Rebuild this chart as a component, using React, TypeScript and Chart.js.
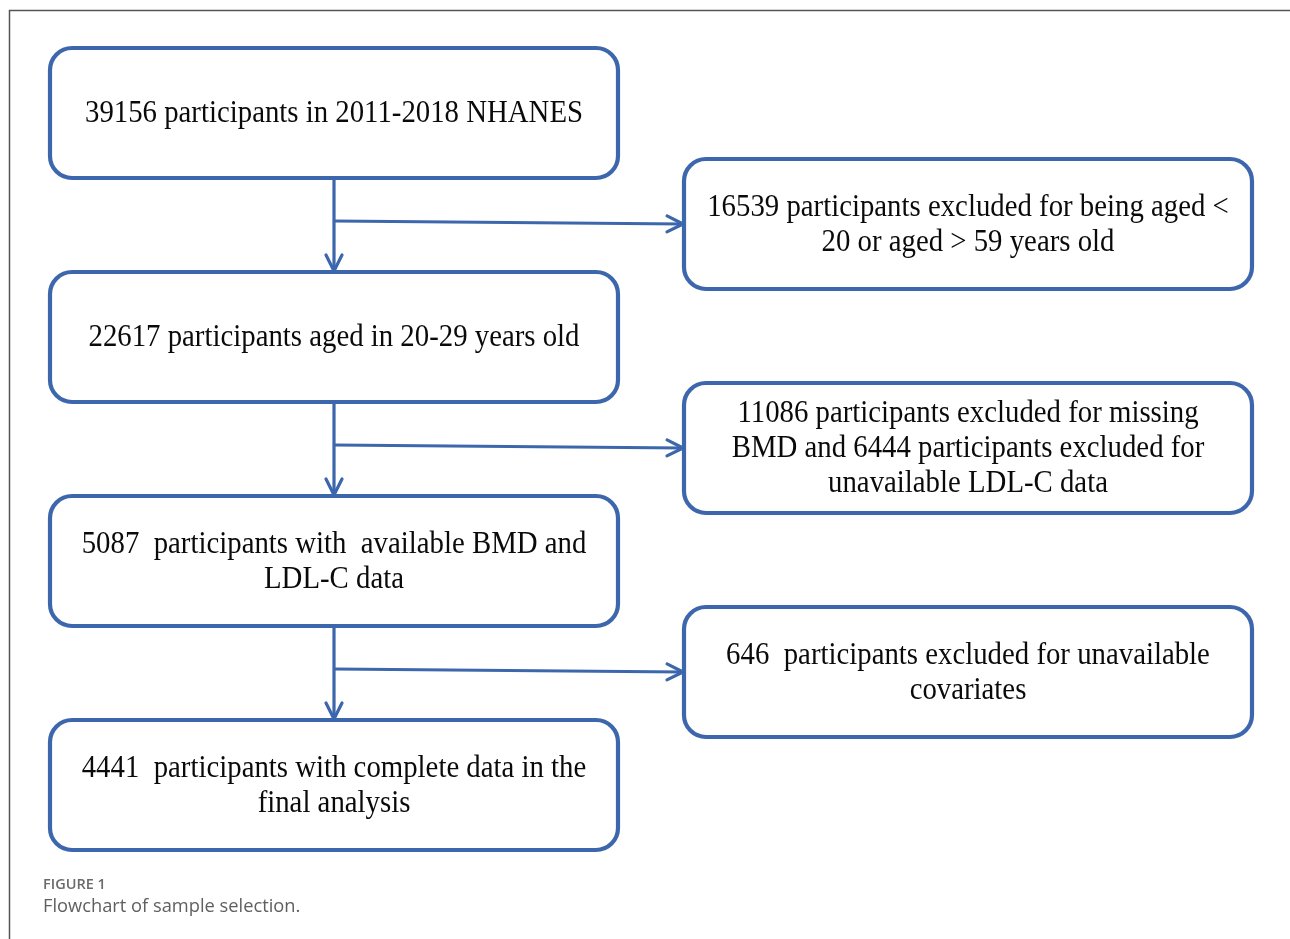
import React, { useEffect, useRef } from "react";
import { Chart, registerables } from "chart.js";

Chart.register(...registerables);

// ---- data ----
const stageLabels: string[][] = [
  ["39156 participants in 2011-2018 NHANES"],
  ["22617 participants aged in 20-29 years old"],
  ["5087  participants with  available BMD and", "LDL-C data"],
  ["4441  participants with complete data in the", "final analysis"],
];
const exclusionLabels: string[][] = [
  ["16539 participants excluded for being aged <", "20 or aged > 59 years old"],
  ["11086 participants excluded for missing", "BMD and 6444 participants excluded for", "unavailable LDL-C data"],
  ["646  participants excluded for unavailable", "covariates"],
];
const figureLabel = "FIGURE 1";
const figureCaption = "Flowchart of sample selection.";

// ---- layout (data units of the hidden scales) ----
const W = 1290;
const H = 939;
const leftCol = { x0: 50, x1: 618 };
const rightCol = { x0: 684, x1: 1252 };
const stageTop0 = 48;
const rowPitch = 224;
const boxH = 130;
const exclTopOffset = 111;
const trunkX = 334;
const BLUE = "#3d67ad";

function stageBox(i: number) {
  const y0 = stageTop0 + i * rowPitch;
  return { x0: leftCol.x0, x1: leftCol.x1, y0, y1: y0 + boxH };
}
function exclBox(i: number) {
  const y0 = stageTop0 + exclTopOffset + i * rowPitch;
  return { x0: rightCol.x0, x1: rightCol.x1, y0, y1: y0 + boxH };
}

// connectors built from the boxes
const connectors: { pts: { x: number; y: number }[] }[] = [];
for (let i = 0; i < stageLabels.length - 1; i++) {
  const a = stageBox(i);
  const b = stageBox(i + 1);
  const e = exclBox(i);
  const branchY = (a.y1 + b.y0) / 2 - 4;
  connectors.push({ pts: [{ x: trunkX, y: a.y1 }, { x: trunkX, y: b.y0 - 1 }] });
  connectors.push({ pts: [{ x: trunkX, y: branchY }, { x: e.x0 - 1, y: branchY + 3 }] });
}

const flowPlugin = {
  id: "flow",
  beforeDatasetsDraw(chart: any) {
    const { ctx, scales } = chart;
    const sx = (v: number) => scales.x.getPixelForValue(v);
    const sy = (v: number) => scales.y.getPixelForValue(v);
    ctx.save();
    // frame
    ctx.strokeStyle = "#555555";
    ctx.lineWidth = 1.5;
    ctx.beginPath();
    ctx.moveTo(sx(W), sy(10.5));
    ctx.lineTo(sx(9.5), sy(10.5));
    ctx.lineTo(sx(9.5), sy(H));
    ctx.stroke();
    ctx.restore();
  },
  afterDatasetsDraw(chart: any) {
    const { ctx, scales } = chart;
    const sx = (v: number) => scales.x.getPixelForValue(v);
    const sy = (v: number) => scales.y.getPixelForValue(v);
    ctx.save();
    // arrowheads
    ctx.strokeStyle = BLUE;
    ctx.lineWidth = 3.2;
    ctx.lineCap = "round";
    ctx.lineJoin = "round";
    connectors.forEach((c) => {
      const p0 = c.pts[0];
      const p1 = c.pts[c.pts.length - 1];
      const x1 = sx(p1.x), y1 = sy(p1.y);
      const ang = Math.atan2(y1 - sy(p0.y), x1 - sx(p0.x));
      const len = 16, half = 8;
      const bx = x1 - Math.cos(ang) * len;
      const by = y1 - Math.sin(ang) * len;
      const nx = -Math.sin(ang), ny = Math.cos(ang);
      ctx.beginPath();
      ctx.moveTo(bx + nx * half, by + ny * half);
      ctx.lineTo(x1, y1);
      ctx.lineTo(bx - nx * half, by - ny * half);
      ctx.stroke();
    });
    // boxes
    const drawBox = (b: any, lines: string[]) => {
      const x = sx(b.x0), y = sy(b.y0);
      const w = sx(b.x1) - x, h = sy(b.y1) - y;
      ctx.beginPath();
      ctx.roundRect(x, y, w, h, 22);
      ctx.fillStyle = "#ffffff";
      ctx.fill();
      ctx.lineWidth = 4.2;
      ctx.strokeStyle = BLUE;
      ctx.stroke();
      ctx.fillStyle = "#0a0a0a";
      ctx.font = '28.8px "Liberation Serif", "Times New Roman", serif';
      ctx.textAlign = "center";
      ctx.textBaseline = "alphabetic";
      const lh = 35;
      const cy = y + h / 2 + 9;
      const start = cy - ((lines.length - 1) * lh) / 2;
      lines.forEach((t, k) => {
        ctx.save();
        ctx.translate(x + w / 2, start + k * lh);
        ctx.scale(1, 1.07);
        ctx.fillText(t, 0, 0);
        ctx.restore();
      });
    };
    stageLabels.forEach((l, i) => drawBox(stageBox(i), l));
    exclusionLabels.forEach((l, i) => drawBox(exclBox(i), l));
    // caption
    ctx.textAlign = "left";
    ctx.textBaseline = "alphabetic";
    ctx.fillStyle = "#6a6a6a";
    ctx.font = '600 14.5px "Open Sans", sans-serif';
    ctx.fillText(figureLabel, sx(43), sy(889));
    ctx.fillStyle = "#5f5f5f";
    ctx.font = '18.3px "Open Sans", sans-serif';
    ctx.fillText(figureCaption, sx(43), sy(912));
    ctx.restore();
  },
};

export default function App() {
  const ref = useRef<HTMLCanvasElement | null>(null);
  useEffect(() => {
    if (!ref.current) return;
    const chart = new Chart(ref.current, {
      type: "scatter",
      data: {
        datasets: connectors.map((c) => ({
          data: c.pts,
          showLine: true,
          borderColor: BLUE,
          borderWidth: 3.2,
          pointRadius: 0,
          fill: false,
        })),
      },
      options: {
        responsive: false,
        animation: false,
        devicePixelRatio: 1,
        layout: { padding: 0 },
        events: [],
        scales: {
          x: { type: "linear", min: 0, max: W, display: false },
          y: { type: "linear", min: 0, max: H, reverse: true, display: false },
        },
        plugins: { legend: { display: false }, tooltip: { enabled: false } },
      },
      plugins: [flowPlugin],
    } as any);
    return () => chart.destroy();
  }, []);
  return (
    <div style={{ position: "fixed", left: 0, top: 0, width: W, height: H, background: "#fff" }}>
      <canvas ref={ref} width={W} height={H} style={{ display: "block" }} />
    </div>
  );
}
